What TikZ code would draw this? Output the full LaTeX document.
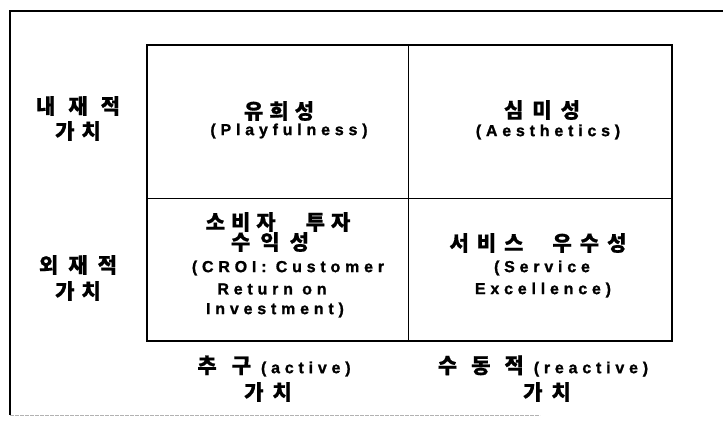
\documentclass[tikz,border=0pt]{standalone}
\usepackage{fontspec}
\newfontfamily\krf{Noto Sans CJK KR}[BoldFeatures={FakeBold=0.6}]
\newfontfamily\latf{Liberation Sans Bold}[LetterSpace=30,FakeBold=1.2]
\newcommand\gp[1]{\hspace{#1pt}}
\newcommand\kr[1]{{\krf\bfseries\fontsize{21}{21}\selectfont #1}}
\newcommand\la[1]{{\latf\fontsize{16}{16}\selectfont #1}}
\tikzset{
  txt/.style={inner sep=0pt, anchor=center},
  gridouter/.style={line width=2pt},
  gridinner/.style={line width=1pt},
  frame/.style={line width=1.5pt},
}
\begin{document}
\begin{tikzpicture}[x=1pt,y=-1pt]
\useasboundingbox (0,0) rectangle (723,426);
% outer frame
\coordinate (fTL) at (10,11);
\coordinate (fTR) at (723,11);
\coordinate (fBL) at (10,415);
\coordinate (fBR) at (540,415);
\draw[frame] (fTR) -- (fTL) -- (fBL);
\draw[gray!60, line width=0.8pt, dash pattern=on 4pt off 1pt] (fBL) -- (fBR);
% grid
\coordinate (g1) at (147,45);
\coordinate (g2) at (672,341);
\coordinate (mt) at (408,45);
\coordinate (mb) at (408,341);
\coordinate (ml) at (147,198);
\coordinate (mr) at (672,198);
\draw[gridinner] (mt) -- (mb);
\draw[gridinner] (ml) -- (mr);
\draw[gridouter] (g1) rectangle (g2);
% top-left cell
\node[txt] (tl1) at (279,111) {\kr{유\gp{6}희\gp{6}성}};
\node[txt] (tl2) at (289,131) {\la{(Playfulness)}};
% top-right cell
\node[txt] (tr1) at (542,110) {\kr{심\gp{9}미\gp{9}성}};
\node[txt] (tr2) at (548,132) {\la{(Aesthetics)}};
% bottom-left cell
\node[txt] (bl1) at (278,222) {\kr{소\gp{6}비\gp{6}자\gp{30}투\gp{6}자}};
\node[txt] (bl2) at (270,242) {\kr{수\gp{10}익\gp{10}성}};
\node[txt] (bl3) at (288,268) {\la{(CROI: Customer}};
\node[txt] (bl4) at (272,289) {\la{Return on}};
\node[txt] (bl5) at (275,310) {\la{Investment)}};
% bottom-right cell
\node[txt] (br1) at (538,243) {\kr{서\gp{8}비\gp{8}스\gp{29}우\gp{8}수\gp{8}성}};
\node[txt] (br2) at (542,268) {\la{(Service}};
\node[txt] (br3) at (543,290) {\la{Excellence)}};
% left labels
\node[txt] (l1) at (78,106) {\kr{내\gp{13}재\gp{13}적}};
\node[txt] (l2) at (78,131) {\kr{가\gp{7}치}};
\node[txt] (l3) at (78,265) {\kr{외\gp{10}재\gp{10}적}};
\node[txt] (l4) at (78,291) {\kr{가\gp{7}치}};
% bottom labels
\node[txt] (b1) at (274,366) {\kr{추\gp{15}구\gp{10}}\la{(active)}};
\node[txt] (b2) at (268,392) {\kr{가\gp{9}치}};
\node[txt] (b3) at (543,366) {\kr{수\gp{14}동\gp{14}적\gp{10}}\la{(reactive)}};
\node[txt] (b4) at (547,392) {\kr{가\gp{9}치}};
\end{tikzpicture}
\end{document}
